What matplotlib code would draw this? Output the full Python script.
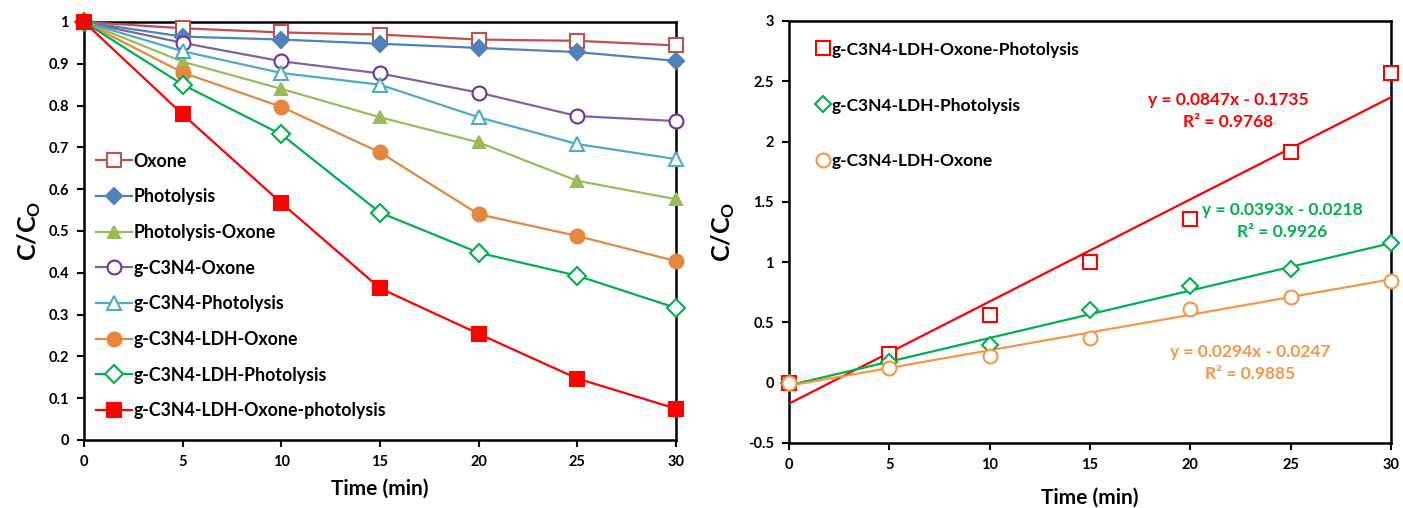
import matplotlib
matplotlib.use('Agg')
import matplotlib.pyplot as plt
from matplotlib.ticker import FuncFormatter

plt.rcParams['font.family'] = ['Lato', 'DejaVu Sans']
plt.rcParams['font.weight'] = 'bold'

# Datos - degradacion C/C0
time = [0, 5, 10, 15, 20, 25, 30]
oxone = [1, 0.985, 0.975, 0.970, 0.958, 0.955, 0.944]
photolysis = [1, 0.965, 0.958, 0.948, 0.938, 0.928, 0.907]
photolysis_oxone = [1, 0.905, 0.840, 0.772, 0.712, 0.620, 0.576]
gcn_oxone = [1, 0.950, 0.906, 0.877, 0.831, 0.775, 0.763]
gcn_photolysis = [1, 0.930, 0.878, 0.850, 0.772, 0.708, 0.672]
gcn_ldh_oxone = [1, 0.879, 0.797, 0.688, 0.540, 0.488, 0.428]
gcn_ldh_photolysis = [1, 0.850, 0.731, 0.544, 0.448, 0.393, 0.316]
gcn_ldh_oxone_photolysis = [1, 0.779, 0.567, 0.363, 0.254, 0.147, 0.075]

# Datos - cinetica (panel derecho)
kin_red = [0, 0.240, 0.565, 1.005, 1.360, 1.910, 2.570]
kin_green = [0, 0.170, 0.315, 0.605, 0.800, 0.945, 1.155]
kin_orange = [0, 0.120, 0.225, 0.370, 0.610, 0.710, 0.845]
fit_red = (0.0847, -0.1735, 0.9768)
fit_green = (0.0393, -0.0218, 0.9926)
fit_orange = (0.0294, -0.0247, 0.9885)

fig = plt.figure(figsize=(14.03, 5.08), dpi=100)
ax1 = fig.add_axes([0.0599, 0.1339, 0.4219, 0.8228])
ax2 = fig.add_axes([0.5624, 0.1280, 0.4290, 0.8307])

fmt = FuncFormatter(lambda v, p: '%g' % round(v, 2))

# Panel izquierdo: (valores, etiqueta, color linea, marcador, relleno, borde)
series = [
    (oxone, 'Oxone', '#C0504D', 's', 'white', '#C0504D'),
    (photolysis, 'Photolysis', '#4F81BD', 'D', '#4F81BD', '#4F81BD'),
    (photolysis_oxone, 'Photolysis-Oxone', '#9BBB59', '^', '#9BBB59', '#9BBB59'),
    (gcn_oxone, 'g-C3N4-Oxone', '#8064A2', 'o', 'white', '#7030A0'),
    (gcn_photolysis, 'g-C3N4-Photolysis', '#4BACC6', '^', 'white', '#4BACC6'),
    (gcn_ldh_oxone, 'g-C3N4-LDH-Oxone', '#E3883E', 'o', '#E3883E', '#E3883E'),
    (gcn_ldh_photolysis, 'g-C3N4-LDH-Photolysis', '#00B050', 'D', 'white', '#00B050'),
    (gcn_ldh_oxone_photolysis, 'g-C3N4-LDH-Oxone-photolysis', '#FF0000', 's', '#FF0000', '#FF0000'),
]
for vals, lab, col, mk, fc, ec in series:
    ms = 8 if mk in ('D', '^') and fc != 'white' else 10
    if mk == 'D' and fc == 'white':
        ms = 9
    ax1.plot(time, vals, color=col, lw=1.6, marker=mk, ms=ms, mfc=fc,
             mec=ec, mew=1.5, label=lab, clip_on=False, zorder=3)

ax1.set_xlim(0, 30)
ax1.set_ylim(0, 1)
ax1.set_xticks(range(0, 31, 5))
ax1.set_yticks([i / 10 for i in range(11)])
ax1.yaxis.set_major_formatter(fmt)
ax1.set_xlabel('Time (min)', fontsize=15, fontweight='bold', labelpad=7)
ax1.set_ylabel('C/C$_\\mathregular{O}$', fontsize=18, fontweight='bold', labelpad=4)
ax1.legend(loc='lower left', bbox_to_anchor=(0.0, 0.02), frameon=False,
           fontsize=12.8, labelspacing=1.05, handlelength=2.0, handletextpad=0.1,
           borderpad=0.2)

# Panel derecho
ax2.plot(time, kin_red, ls='none', marker='s', ms=10, mfc='white', mec='#FF0000',
         mew=1.5, label='g-C3N4-LDH-Oxone-Photolysis', clip_on=False, zorder=4)
ax2.plot(time, kin_green, ls='none', marker='D', ms=8, mfc='white', mec='#00B050',
         mew=1.5, label='g-C3N4-LDH-Photolysis', clip_on=False, zorder=4)
ax2.plot(time, kin_orange, ls='none', marker='o', ms=10, mfc='white', mec='#F79646',
         mew=1.5, label='g-C3N4-LDH-Oxone', clip_on=False, zorder=4)

for (m, b, r2), col in [(fit_red, '#FF0000'), (fit_green, '#00B050'), (fit_orange, '#F79646')]:
    ax2.plot([0, 30], [b, m * 30 + b], color=col, lw=1.6, zorder=3)

ax2.text(21.9, 2.25, 'y = %.4fx - %.4f\nR² = %.4f' % (fit_red[0], -fit_red[1], fit_red[2]),
         color='#FF0000', fontsize=12.5, ha='center', va='center', linespacing=1.45)
ax2.text(24.6, 1.34, 'y = %.4fx - %.4f\nR² = %.4f' % (fit_green[0], -fit_green[1], fit_green[2]),
         color='#00B050', fontsize=12.5, ha='center', va='center', linespacing=1.45)
ax2.text(23.0, 0.16, 'y = %.4fx - %.4f\nR² = %.4f' % (fit_orange[0], -fit_orange[1], fit_orange[2]),
         color='#F79646', fontsize=12.5, ha='center', va='center', linespacing=1.45)

ax2.set_xlim(0, 30)
ax2.set_ylim(-0.5, 3)
ax2.set_xticks(range(0, 31, 5))
ax2.set_yticks([-0.5, 0, 0.5, 1, 1.5, 2, 2.5, 3])
ax2.yaxis.set_major_formatter(fmt)
ax2.set_xlabel('Time (min)', fontsize=15, fontweight='bold', labelpad=11)
ax2.set_ylabel('C/C$_\\mathregular{O}$', fontsize=18, fontweight='bold', labelpad=8)
ax2.legend(loc='upper left', bbox_to_anchor=(0.025, 0.98), frameon=False,
           fontsize=12.5, labelspacing=2.3, handlelength=0.8, handletextpad=0.1,
           borderpad=0.2)

for ax in (ax1, ax2):
    for s in ax.spines.values():
        s.set_linewidth(1.8)
        s.set_color('black')
    ax.tick_params(direction='out', length=5, width=1.5, labelsize=10.5, pad=6)
    for t in ax.get_xticklabels() + ax.get_yticklabels():
        t.set_fontweight('bold')

fig.savefig('out.png', dpi=100)
